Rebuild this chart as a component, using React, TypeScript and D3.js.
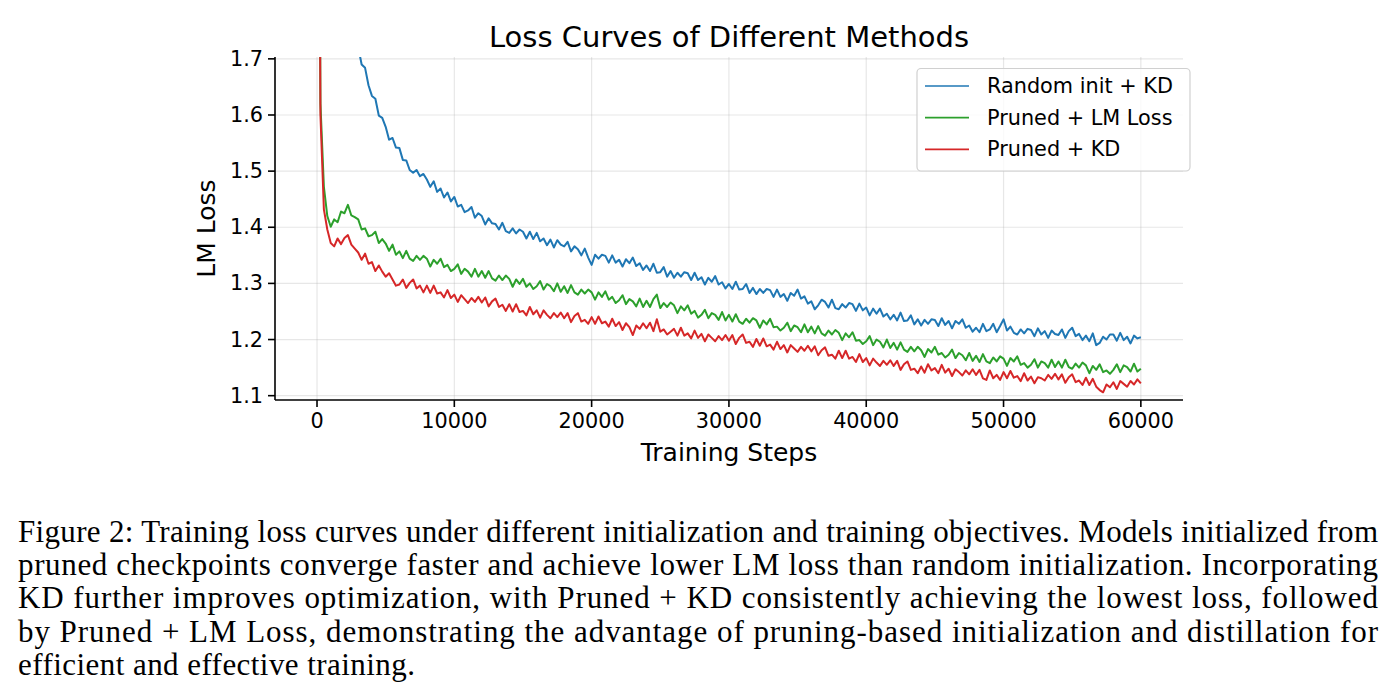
import React from "react";
import * as d3 from "d3";

// logged every 250 training steps, from step 0 to 60000
const STEP = 250;

const randomInitKD = [
  3.40, 3.05, 2.78, 2.55, 2.38, 2.24, 2.12, 2.03, 1.95, 1.89, 1.83, 1.78,
  1.721, 1.690, 1.684, 1.653, 1.634, 1.629, 1.599, 1.595, 1.579, 1.556, 1.559, 1.542,
  1.541, 1.520, 1.519, 1.502, 1.497, 1.502, 1.491, 1.495, 1.485, 1.472, 1.482, 1.463,
  1.469, 1.453, 1.462, 1.446, 1.454, 1.437, 1.440, 1.427, 1.430, 1.436, 1.417, 1.425,
  1.420, 1.405, 1.416, 1.407, 1.406, 1.396, 1.408, 1.393, 1.390, 1.398, 1.389, 1.396,
  1.392, 1.380, 1.392, 1.379, 1.390, 1.375, 1.380, 1.368, 1.378, 1.364, 1.377, 1.369,
  1.366, 1.374, 1.357, 1.366, 1.361, 1.350, 1.362, 1.346, 1.333, 1.351, 1.344, 1.351,
  1.349, 1.337, 1.350, 1.337, 1.342, 1.330, 1.343, 1.336, 1.346, 1.331, 1.336, 1.324,
  1.332, 1.322, 1.335, 1.319, 1.320, 1.329, 1.312, 1.322, 1.310, 1.319, 1.312, 1.320,
  1.318, 1.306, 1.319, 1.306, 1.311, 1.298, 1.310, 1.303, 1.313, 1.298, 1.302, 1.291,
  1.299, 1.290, 1.303, 1.289, 1.290, 1.299, 1.283, 1.292, 1.281, 1.290, 1.283, 1.290,
  1.288, 1.276, 1.289, 1.276, 1.281, 1.269, 1.283, 1.278, 1.289, 1.273, 1.277, 1.264,
  1.268, 1.254, 1.261, 1.271, 1.267, 1.257, 1.271, 1.256, 1.254, 1.263, 1.257, 1.265,
  1.263, 1.251, 1.264, 1.252, 1.257, 1.243, 1.255, 1.246, 1.255, 1.241, 1.246, 1.236,
  1.244, 1.234, 1.248, 1.233, 1.234, 1.243, 1.227, 1.236, 1.225, 1.235, 1.228, 1.236,
  1.235, 1.224, 1.238, 1.226, 1.233, 1.220, 1.233, 1.228, 1.236, 1.221, 1.225, 1.214,
  1.221, 1.213, 1.228, 1.215, 1.218, 1.228, 1.213, 1.224, 1.236, 1.216, 1.223, 1.212,
  1.209, 1.218, 1.211, 1.219, 1.217, 1.206, 1.220, 1.209, 1.215, 1.203, 1.216, 1.210,
  1.208, 1.218, 1.203, 1.215, 1.221, 1.206, 1.210, 1.199, 1.207, 1.197, 1.211, 1.190,
  1.194, 1.205, 1.200, 1.209, 1.209, 1.198, 1.212, 1.199, 1.205, 1.193, 1.207, 1.202,
  1.204,
];

const prunedLMLoss = [
  2.95, 1.62, 1.472, 1.420, 1.401, 1.414, 1.409, 1.428, 1.425, 1.440, 1.421, 1.418,
  1.414, 1.396, 1.398, 1.384, 1.386, 1.392, 1.372, 1.379, 1.371, 1.358, 1.369, 1.351,
  1.357, 1.345, 1.358, 1.344, 1.340, 1.349, 1.342, 1.349, 1.344, 1.330, 1.342, 1.335,
  1.344, 1.329, 1.333, 1.322, 1.326, 1.334, 1.317, 1.326, 1.321, 1.312, 1.326, 1.312,
  1.322, 1.310, 1.322, 1.309, 1.305, 1.314, 1.306, 1.314, 1.308, 1.294, 1.307, 1.299,
  1.308, 1.294, 1.300, 1.290, 1.295, 1.304, 1.289, 1.299, 1.295, 1.286, 1.300, 1.285,
  1.295, 1.283, 1.297, 1.284, 1.280, 1.289, 1.282, 1.289, 1.284, 1.271, 1.284, 1.276,
  1.286, 1.271, 1.276, 1.265, 1.270, 1.279, 1.263, 1.272, 1.268, 1.259, 1.273, 1.258,
  1.269, 1.258, 1.272, 1.280, 1.256, 1.265, 1.258, 1.266, 1.261, 1.247, 1.259, 1.252,
  1.261, 1.246, 1.251, 1.239, 1.244, 1.253, 1.238, 1.247, 1.244, 1.235, 1.249, 1.234,
  1.244, 1.232, 1.245, 1.232, 1.228, 1.237, 1.230, 1.238, 1.234, 1.221, 1.234, 1.227,
  1.237, 1.222, 1.223, 1.216, 1.221, 1.230, 1.215, 1.225, 1.222, 1.213, 1.227, 1.213,
  1.223, 1.211, 1.224, 1.211, 1.207, 1.216, 1.209, 1.217, 1.212, 1.199, 1.211, 1.204,
  1.213, 1.198, 1.199, 1.192, 1.197, 1.206, 1.190, 1.200, 1.196, 1.186, 1.200, 1.185,
  1.194, 1.182, 1.195, 1.182, 1.178, 1.187, 1.179, 1.187, 1.181, 1.169, 1.183, 1.177,
  1.187, 1.173, 1.176, 1.168, 1.173, 1.182, 1.167, 1.176, 1.172, 1.163, 1.176, 1.162,
  1.171, 1.160, 1.174, 1.161, 1.158, 1.168, 1.161, 1.170, 1.166, 1.153, 1.167, 1.161,
  1.170, 1.155, 1.158, 1.150, 1.155, 1.165, 1.150, 1.161, 1.158, 1.150, 1.164, 1.151,
  1.161, 1.150, 1.164, 1.151, 1.148, 1.157, 1.150, 1.159, 1.154, 1.140, 1.153, 1.146,
  1.156, 1.142, 1.145, 1.139, 1.146, 1.156, 1.142, 1.154, 1.151, 1.143, 1.157, 1.143,
  1.148,
];

const prunedKD = [
  2.90, 1.60, 1.432, 1.396, 1.372, 1.366, 1.380, 1.370, 1.381, 1.386, 1.369, 1.362,
  1.355, 1.342, 1.353, 1.335, 1.338, 1.322, 1.332, 1.321, 1.312, 1.318, 1.307, 1.296,
  1.298, 1.307, 1.292, 1.301, 1.307, 1.291, 1.296, 1.284, 1.296, 1.283, 1.296, 1.282,
  1.284, 1.275, 1.288, 1.274, 1.280, 1.267, 1.279, 1.272, 1.265, 1.274, 1.267, 1.276,
  1.266, 1.275, 1.259, 1.268, 1.273, 1.258, 1.262, 1.251, 1.263, 1.250, 1.263, 1.249,
  1.251, 1.243, 1.258, 1.245, 1.252, 1.239, 1.252, 1.244, 1.238, 1.247, 1.240, 1.248,
  1.238, 1.247, 1.231, 1.242, 1.247, 1.232, 1.235, 1.228, 1.240, 1.228, 1.241, 1.229,
  1.232, 1.223, 1.237, 1.224, 1.231, 1.217, 1.229, 1.222, 1.208, 1.225, 1.219, 1.229,
  1.220, 1.230, 1.215, 1.236, 1.214, 1.218, 1.209, 1.214, 1.219, 1.207, 1.221, 1.207,
  1.211, 1.202, 1.216, 1.203, 1.210, 1.197, 1.209, 1.203, 1.197, 1.206, 1.199, 1.208,
  1.198, 1.208, 1.192, 1.203, 1.209, 1.194, 1.196, 1.187, 1.201, 1.189, 1.202, 1.188,
  1.191, 1.182, 1.196, 1.183, 1.190, 1.177, 1.190, 1.184, 1.178, 1.187, 1.180, 1.189,
  1.179, 1.188, 1.172, 1.181, 1.186, 1.171, 1.173, 1.166, 1.180, 1.167, 1.180, 1.166,
  1.169, 1.160, 1.174, 1.160, 1.167, 1.154, 1.166, 1.159, 1.153, 1.162, 1.155, 1.163,
  1.153, 1.162, 1.146, 1.156, 1.161, 1.146, 1.148, 1.140, 1.152, 1.141, 1.156, 1.145,
  1.149, 1.140, 1.155, 1.141, 1.148, 1.135, 1.147, 1.142, 1.136, 1.145, 1.138, 1.147,
  1.137, 1.146, 1.131, 1.128, 1.145, 1.131, 1.137, 1.128, 1.142, 1.131, 1.144, 1.132,
  1.135, 1.126, 1.140, 1.127, 1.134, 1.122, 1.133, 1.131, 1.127, 1.137, 1.130, 1.139,
  1.129, 1.138, 1.123, 1.133, 1.138, 1.124, 1.127, 1.119, 1.132, 1.119, 1.130, 1.116,
  1.110, 1.106, 1.120, 1.115, 1.124, 1.112, 1.126, 1.121, 1.116, 1.126, 1.120, 1.129,
  1.122,
];

const seriesNames = ["Random init + KD", "Pruned + LM Loss", "Pruned + KD"];
const seriesValues = [randomInitKD, prunedLMLoss, prunedKD];
const seriesColors = ["#1f77b4", "#2ca02c", "#d62728"];

const xTicks = [0, 10000, 20000, 30000, 40000, 50000, 60000];
const yTicks = [1.1, 1.2, 1.3, 1.4, 1.5, 1.6, 1.7];

const captionLines = [
  "Figure 2: Training loss curves under different initialization and training objectives. Models initialized from",
  "pruned checkpoints converge faster and achieve lower LM loss than random initialization. Incorporating",
  "KD further improves optimization, with Pruned + KD consistently achieving the lowest loss, followed",
  "by Pruned + LM Loss, demonstrating the advantage of pruning-based initialization and distillation for",
  "efficient and effective training.",
];
const captionWidths = [1360, 1360, 1360, 1360, 397];

const W = 1393;
const H = 697;
const plot = { left: 275, right: 1183, top: 57, bottom: 400 };
const FONT = "'DejaVu Sans', sans-serif";

export default function App() {
  const x = d3.scaleLinear().domain([-3060, 63070]).range([plot.left, plot.right]);
  const y = d3.scaleLinear().domain([1.0923, 1.7033]).range([plot.bottom, plot.top]);

  const line = d3
    .line<number>()
    .x((_, i) => x(i * STEP))
    .y((d) => y(d));

  return (
    <svg
      width={W}
      height={H}
      style={{ position: "absolute", left: 0, top: 0, display: "block", background: "#fff" }}
    >
      <defs>
        <clipPath id="plotClip">
          <rect x={plot.left} y={plot.top} width={plot.right - plot.left} height={plot.bottom - plot.top} />
        </clipPath>
      </defs>

      {/* grid */}
      <g stroke="#b0b0b0" strokeOpacity={0.3} strokeWidth={1.2}>
        {xTicks.map((t) => (
          <line key={"gx" + t} x1={x(t)} x2={x(t)} y1={plot.top} y2={plot.bottom} />
        ))}
        {yTicks.map((t) => (
          <line key={"gy" + t} x1={plot.left} x2={plot.right} y1={y(t)} y2={y(t)} />
        ))}
      </g>

      {/* curves */}
      <g clipPath="url(#plotClip)" fill="none" strokeWidth={2} strokeLinejoin="round">
        {seriesValues.map((vals, i) => (
          <path key={seriesNames[i]} d={line(vals) ?? ""} stroke={seriesColors[i]} />
        ))}
      </g>

      {/* spines */}
      <g stroke="#000" strokeWidth={1.6}>
        <line x1={plot.left} x2={plot.left} y1={plot.top} y2={plot.bottom} />
        <line x1={plot.left} x2={plot.right} y1={plot.bottom} y2={plot.bottom} />
      </g>

      {/* ticks */}
      <g fontFamily={FONT} fontSize={20.8} fill="#000">
        {yTicks.map((t) => (
          <g key={"yt" + t}>
            <line x1={plot.left - 7} x2={plot.left} y1={y(t)} y2={y(t)} stroke="#000" strokeWidth={1.6} />
            <text x={plot.left - 12} y={y(t)} textAnchor="end" dominantBaseline="central">
              {t.toFixed(1)}
            </text>
          </g>
        ))}
        {xTicks.map((t) => (
          <g key={"xt" + t}>
            <line x1={x(t)} x2={x(t)} y1={plot.bottom} y2={plot.bottom + 7} stroke="#000" strokeWidth={1.6} />
            <text x={x(t)} y={plot.bottom + 28} textAnchor="middle">
              {t}
            </text>
          </g>
        ))}
      </g>

      {/* labels */}
      <text x={(plot.left + plot.right) / 2} y={461} textAnchor="middle" fontFamily={FONT} fontSize={25}>
        Training Steps
      </text>
      <text
        transform={`translate(215,${(plot.top + plot.bottom) / 2}) rotate(-90)`}
        textAnchor="middle"
        fontFamily={FONT}
        fontSize={25}
      >
        LM Loss
      </text>
      <text x={(plot.left + plot.right) / 2} y={47} textAnchor="middle" fontFamily={FONT} fontSize={29}>
        Loss Curves of Different Methods
      </text>

      {/* legend */}
      <g fontFamily={FONT} fontSize={20.8}>
        <rect x={917} y={68.5} width={273} height={102.5} rx={4} fill="#fff" fillOpacity={0.8} stroke="#d0d0d0" strokeWidth={1.2} />
        {seriesNames.map((name, i) => (
          <g key={"lg" + name} transform={`translate(0,${86 + i * 31.7})`}>
            <line x1={925} x2={969} y1={0} y2={0} stroke={seriesColors[i]} strokeWidth={1.7} />
            <text x={987} y={0} dominantBaseline="central">
              {name}
            </text>
          </g>
        ))}
      </g>

      {/* caption */}
      <g fontFamily="'Liberation Serif', 'Times New Roman', serif" fontSize={31} fill="#000">
        {captionLines.map((ln, i) => (
          <text key={"cap" + i} x={18} y={542 + i * 33.2} textLength={captionWidths[i]} lengthAdjust="spacing">
            {ln}
          </text>
        ))}
      </g>
    </svg>
  );
}
